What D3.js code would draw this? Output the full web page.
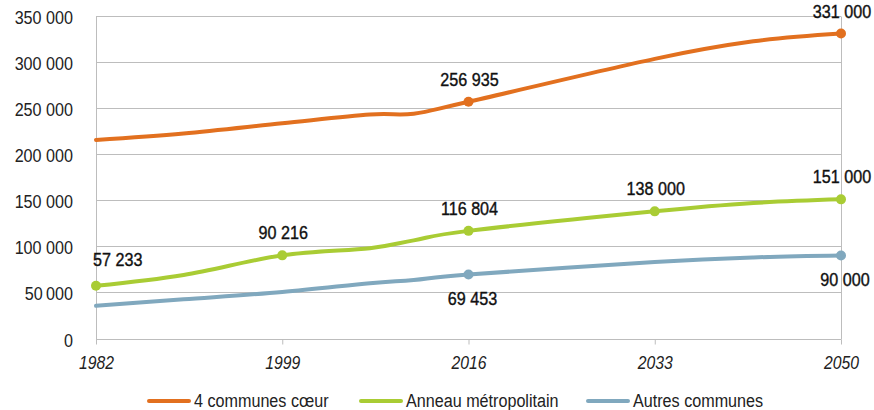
<!DOCTYPE html>
<html>
  <head>
    <meta charset="utf-8">
    <title>Population 1982-2050</title>
    <script src="https://d3js.org/d3.v7.min.js"></script>
    <style>
      body { margin: 0; background: #fff; }
      svg { display: block; }
      text { font-family: "Liberation Sans", Arial, sans-serif; }
    </style>
  </head>
  <body>
    <svg id="chart" width="874" height="410"></svg>
    <script>
      // data
      var years = [1982, 1990, 1999, 2007, 2011, 2016, 2033, 2042, 2050];
      var coeur = [215500, 222500, 233500, 243000, 244000, 256935, 303500, 322500, 331000];
      var anneau = [57233, 69000, 90216, 98000, 106500, 116804, 138000, 147000, 151000];
      var autres = [35500, 42500, 50500, 60000, 63500, 69453, 83000, 88000, 90000];
      var tickYears = [1982, 1999, 2016, 2033, 2050];
      var yTicks = [0, 50000, 100000, 150000, 200000, 250000, 300000, 350000];
      var yTickLabels = ["0", "50\u2009000", "100 000", "150 000", "200 000", "250 000", "300 000", "350 000"];
      var seriesNames = ["4 communes cœur", "Anneau métropolitain", "Autres communes"];
      var colours = ["#e2701f", "#a9cc34", "#80a8be"];
      // which points get a marker + label (year, label text, label placement)
      var coeurLabels = [[2016, "256 935", "above"], [2050, "331 000", "above"]];
      var anneauLabels = [[1982, "57 233", "aboveRight"], [1999, "90 216", "above"], [2016, "116 804", "above"], [2033, "138 000", "above"], [2050, "151 000", "above"]];
      var autresLabels = [[2016, "69 453", "below"], [2050, "90 000", "below"]];

      var narrow = " scale(0.85,1)"; // no narrow font installed, squeeze Liberation Sans

      var svg = d3.select("#chart");
      var x = d3.scaleLinear().domain([1982, 2050]).range([96, 841]);
      var y = d3.scaleLinear().domain([0, 350000]).range([338.5, 16]);

      // gridlines
      svg.append("g").selectAll("line")
          .data(yTicks)
        .enter().append("line")
          .attr("x1", x(1982)).attr("x2", x(2050))
          .attr("y1", function(d) { return Math.round(y(d)) + .5; })
          .attr("y2", function(d) { return Math.round(y(d)) + .5; })
          .attr("stroke", "#bdbdbd").attr("stroke-width", 1);
      // left and right borders
      [1982, 2050].forEach(function(yr) {
        svg.append("line")
          .attr("x1", Math.round(x(yr)) + .5).attr("x2", Math.round(x(yr)) + .5)
          .attr("y1", Math.round(y(350000)) + .5).attr("y2", Math.round(y(0)) + .5)
          .attr("stroke", "#bdbdbd");
      });

      // y axis labels
      svg.append("g").selectAll("text")
          .data(yTicks)
        .enter().append("text")
          .attr("transform", function(d) { return "translate(73," + (y(d) + 8) + ")" + narrow; })
          .attr("text-anchor", "end")
          .attr("font-size", 19)
          .attr("fill", "#222")
          .text(function(d, i) { return yTickLabels[i]; });

      // x axis ticks and labels
      var xAxis = d3.axisBottom(x)
        .tickValues(tickYears)
        .tickSize(5)
        .tickFormat(d3.format("d"));
      var gx = svg.append("g")
        .attr("transform", "translate(0," + (Math.round(y(0)) + .5) + ")")
        .call(xAxis);
      gx.select(".domain").remove();
      gx.selectAll(".tick line").attr("stroke", "#bdbdbd");
      gx.selectAll(".tick text")
        .attr("y", 0).attr("dy", null)
        .attr("transform", "translate(0,29)" + narrow)
        .attr("font-size", 18.5)
        .attr("font-style", "italic")
        .attr("fill", "#222")
        .attr("font-family", null);

      var line = d3.line()
        .x(function(d, i) { return x(years[i]); })
        .y(function(d) { return y(d); })
        .curve(d3.curveCardinal.tension(0));

      var all = [[coeur, coeurLabels], [anneau, anneauLabels], [autres, autresLabels]];
      all.forEach(function(s, k) {
        var values = s[0];
        svg.append("path")
          .datum(values)
          .attr("d", line)
          .attr("fill", "none")
          .attr("stroke", colours[k])
          .attr("stroke-width", 4)
          .attr("stroke-linecap", "round");
        var g = svg.append("g");
        s[1].forEach(function(l) {
          var v = values[years.indexOf(l[0])];
          var cx = x(l[0]), cy = y(v);
          g.append("circle")
            .attr("cx", cx).attr("cy", cy).attr("r", 5)
            .attr("fill", colours[k]);
          var t = g.append("text")
            .attr("font-size", 19)
            .attr("fill", "#111")
            .attr("stroke", "#111").attr("stroke-width", .4)
            .text(l[1]);
          var tx, ty, anchor = "middle";
          if (l[2] == "above") { tx = cx + 1; ty = cy - 16; }
          else if (l[2] == "aboveRight") { tx = cx - 3; ty = cy - 20; anchor = "start"; }
          else { tx = cx + 4; ty = cy + 30; }
          t.attr("transform", "translate(" + tx + "," + ty + ")" + narrow)
            .attr("text-anchor", anchor);
        });
      });

      // legend
      var legendX = [149, 361, 588];
      var lg = svg.append("g").selectAll("g")
          .data(seriesNames)
        .enter().append("g")
          .attr("transform", function(d, i) { return "translate(" + legendX[i] + ",401)"; });
      lg.append("line")
        .attr("x1", 0).attr("x2", 40)
        .attr("stroke", function(d, i) { return colours[i]; })
        .attr("stroke-width", 4)
        .attr("stroke-linecap", "round");
      lg.append("text")
        .attr("transform", "translate(45,6)" + narrow)
        .attr("font-size", 19)
        .attr("fill", "#222")
        .text(function(d) { return d; });
    </script>
  </body>
</html>
